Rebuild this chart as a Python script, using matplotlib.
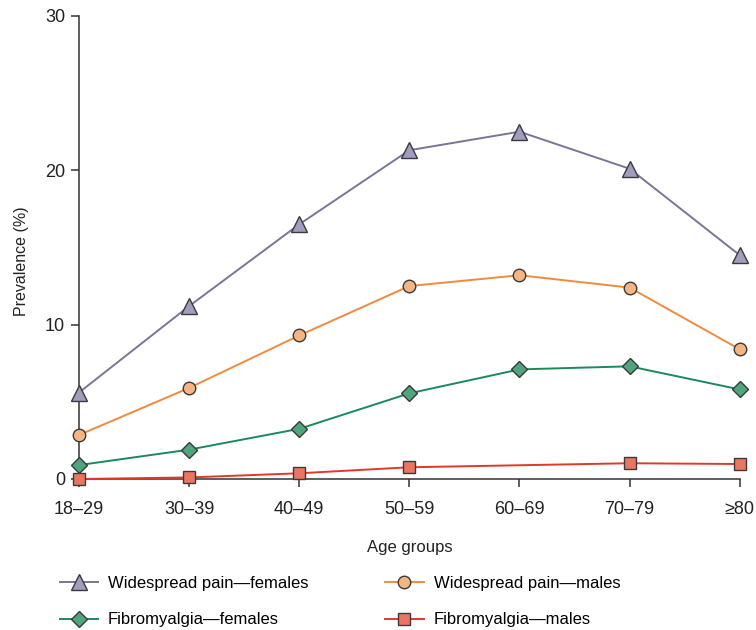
import numpy as np
import matplotlib
matplotlib.use('Agg')
import matplotlib.pyplot as plt

plt.rcParams['font.family'] = ['Liberation Sans', 'DejaVu Sans']

# Prevalence (%) by age group
age_groups = ['18–29', '30–39', '40–49', '50–59', '60–69', '70–79', '≥80']
wp_females = [5.6, 11.2, 16.5, 21.3, 22.5, 20.1, 14.5]
wp_males = [2.85, 5.9, 9.3, 12.5, 13.2, 12.4, 8.4]
fm_females = [0.9, 1.9, 3.25, 5.55, 7.1, 7.3, 5.8]
fm_males = [0.0, 0.1, 0.37, 0.76, None, 1.02, 0.97]  # no estimate for 60-69

y_ticks = [0, 10, 20, 30]

series = [
    ('Widespread pain—females', wp_females, '^', 11, '#7d7399', '#a49cbf'),
    ('Fibromyalgia—females', fm_females, 'D', 8, '#1b8a5a', '#4fa57c'),
    ('Widespread pain—males', wp_males, 'o', 9, '#f28a3e', '#f7b483'),
    ('Fibromyalgia—males', fm_males, 's', 9, '#e0392b', '#ea7662'),
]

fig = plt.figure(figsize=(7.56, 6.3), dpi=100)
ax = fig.add_axes([0.1045, 0.2397, 0.874, 0.735])

x_all = np.arange(len(age_groups))
handles = []
for label, vals, marker, ms, line_c, face_c in series:
    xs = [x for x, v in zip(x_all, vals) if v is not None]
    ys = [v for v in vals if v is not None]
    h, = ax.plot(xs, ys, color=line_c, lw=1.4, marker=marker, ms=ms,
                 mfc=face_c, mec='#3a3a3a', mew=1.0, clip_on=False,
                 zorder=3, label=label)
    handles.append(h)

ax.set_xlim(0, 6)
ax.set_ylim(0, 30)
ax.set_xticks(x_all)
ax.set_xticklabels(age_groups)
ax.set_yticks(y_ticks)

for side in ['top', 'right']:
    ax.spines[side].set_visible(False)
for side in ['left', 'bottom']:
    ax.spines[side].set_color('#333333')
    ax.spines[side].set_linewidth(1.1)

ax.tick_params(axis='both', colors='#333333', length=6, width=1.1,
               labelsize=13, labelcolor='#222222')
ax.tick_params(axis='x', pad=10)
ax.tick_params(axis='y', pad=4)

ax.set_xlabel('Age groups', fontsize=12, color='#222222', labelpad=16)
ax.set_ylabel('Prevalence (%)', fontsize=11.5, color='#222222')
ax.yaxis.set_label_coords(-0.076, 0.47)

fig.legend(handles=handles, loc='upper left', bbox_to_anchor=(0.079, 0.086),
           ncol=2, frameon=False, fontsize=12, handlelength=2.3,
           handletextpad=0.6, columnspacing=4.6, labelspacing=1.3,
           borderaxespad=0, borderpad=0)

fig.savefig('out.png', dpi=100)
